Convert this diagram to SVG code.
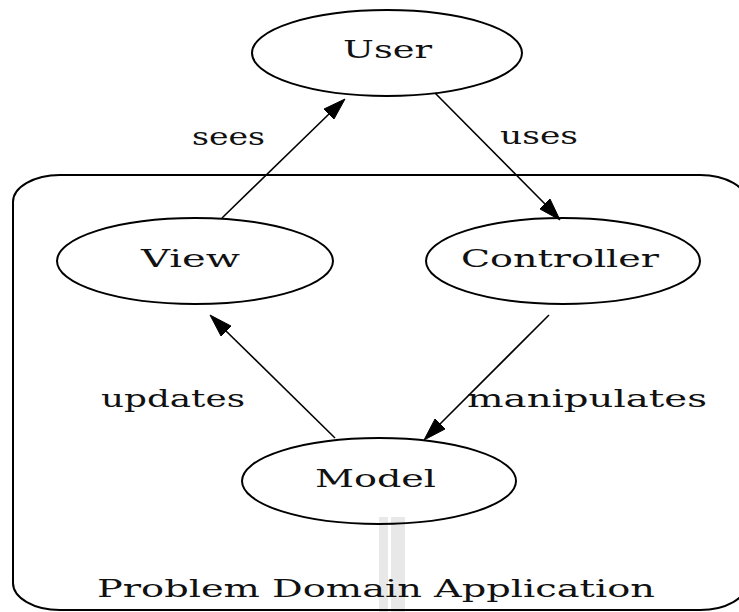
<svg xmlns="http://www.w3.org/2000/svg" width="739" height="612" viewBox="0 0 739 612">
<style>
.node ellipse{fill:none;stroke:#000;stroke-width:2}
.lbl{font-family:"DejaVu Serif","Liberation Serif",serif;font-size:24px;fill:#111;text-anchor:start}
.edge line{stroke:#000;stroke-width:1.6}
.edge polygon{fill:#000;stroke:#000;stroke-width:1}
</style>
<rect width="739" height="612" fill="#fff"/>
<g id="watermark" fill="#e8e8e8">
<rect x="379" y="517" width="9" height="95"/>
<rect x="391" y="517" width="14" height="95"/>
</g>
<g id="cluster">
<rect x="13" y="175" width="734" height="435" rx="47" ry="27" fill="none" stroke="#000" stroke-width="2"/>
<text class="lbl" x="97" y="597" textLength="558" lengthAdjust="spacingAndGlyphs">Problem Domain Application</text>
</g>
<g id="connectors" class="edge">
<g id="e-sees">
<line x1="222" y1="218" x2="329" y2="114"/>
<polygon points="345,99 324,109 334,119"/>
<text class="lbl" x="192" y="145" textLength="73" lengthAdjust="spacingAndGlyphs">sees</text>
</g>
<g id="e-uses">
<line x1="435" y1="93" x2="545" y2="204"/>
<polygon points="560,220 540,209 550,199"/>
<text class="lbl" x="500" y="144" textLength="78" lengthAdjust="spacingAndGlyphs">uses</text>
</g>
<g id="e-updates">
<line x1="335" y1="438" x2="226" y2="331"/>
<polygon points="210,315 221,336 231,326"/>
<text class="lbl" x="101" y="407" textLength="144" lengthAdjust="spacingAndGlyphs">updates</text>
</g>
<g id="e-manipulates">
<line x1="549" y1="315" x2="440" y2="424"/>
<polygon points="424,440 435,419 445,429"/>
<text class="lbl" x="467" y="407" textLength="240" lengthAdjust="spacingAndGlyphs">manipulates</text>
</g>
</g>
<g id="User" class="node">
<ellipse cx="387" cy="53" rx="135" ry="43"/>
<text class="lbl" x="343" y="58" textLength="89" lengthAdjust="spacingAndGlyphs">User</text>
</g>
<g id="View" class="node">
<ellipse cx="195" cy="261" rx="138" ry="43"/>
<text class="lbl" x="141" y="267" textLength="99" lengthAdjust="spacingAndGlyphs">View</text>
</g>
<g id="Controller" class="node">
<ellipse cx="563" cy="261" rx="137" ry="43"/>
<text class="lbl" x="461" y="267" textLength="198" lengthAdjust="spacingAndGlyphs">Controller</text>
</g>
<g id="Model" class="node">
<ellipse cx="379" cy="481" rx="137" ry="43"/>
<text class="lbl" x="315" y="487" textLength="121" lengthAdjust="spacingAndGlyphs">Model</text>
</g>
</svg>
